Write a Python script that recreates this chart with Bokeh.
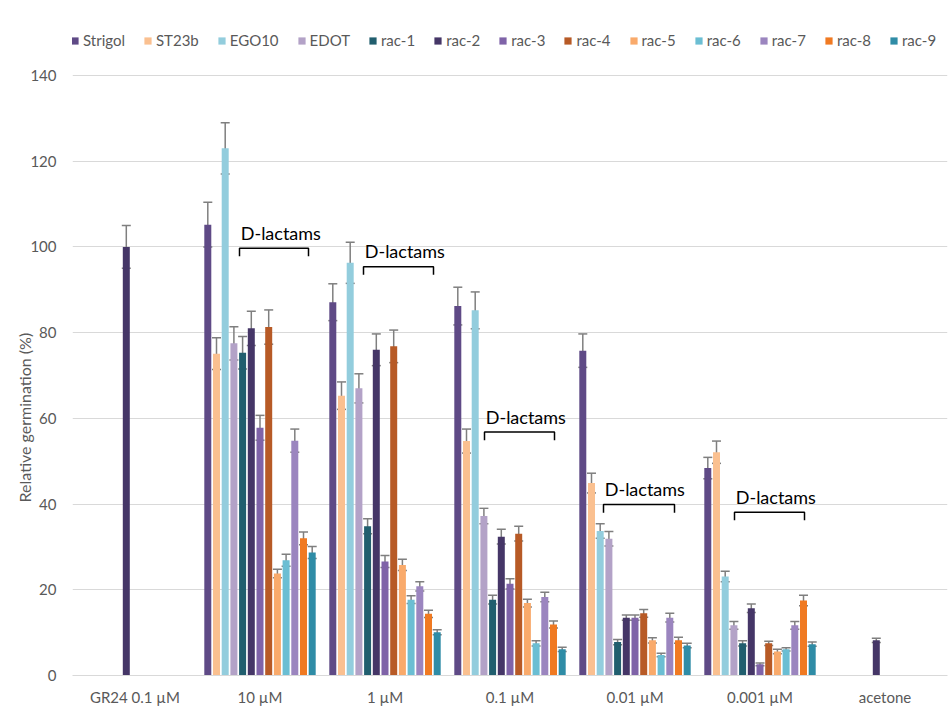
import math
from bokeh.plotting import figure
from bokeh.models import (Range1d, FixedTicker, ColumnDataSource, Whisker, TeeHead,
                          Legend, LegendItem)
from bokeh.core.properties import value
from bokeh.embed import file_html
from bokeh.resources import INLINE

categories = ["GR24 0.1 µM", "10 µM", "1 µM", "0.1 µM", "0.01 µM", "0.001 µM", "acetone"]
series_names = ["Strigol", "ST23b", "EGO10", "EDOT", "rac-1", "rac-2", "rac-3",
                "rac-4", "rac-5", "rac-6", "rac-7", "rac-8", "rac-9"]

strigol = [None, 105.2, 87.1, 86.2, 75.8, 48.4, None]
strigol_err = [None, 5.2, 4.3, 4.4, 3.9, 2.5, None]
st23b = [None, 75.1, 65.3, 54.7, 44.9, 52.1, None]
st23b_err = [None, 3.7, 3.2, 2.8, 2.3, 2.6, None]
ego10 = [None, 123.0, 96.3, 85.2, 33.7, 23.1, None]
ego10_err = [None, 6.0, 4.8, 4.3, 1.7, 1.2, None]
edot = [None, 77.5, 67.0, 37.2, 31.9, 11.7, None]
edot_err = [None, 3.9, 3.4, 1.8, 1.7, 0.9, None]
rac1 = [None, 75.3, 34.8, 17.7, 7.8, 7.5, None]
rac1_err = [None, 3.8, 1.75, 1.0, 0.6, 0.6, None]
rac2 = [100.0, 81.0, 76.0, 32.4, 13.5, 15.7, 8.2]
rac2_err = [5.0, 4.0, 3.7, 1.7, 0.6, 1.0, 0.5]
rac3 = [None, 57.8, 26.6, 21.4, 13.5, 2.6, None]
rac3_err = [None, 2.9, 1.4, 1.2, 0.6, 0.3, None]
rac4 = [None, 81.3, 76.8, 33.1, 14.5, 7.5, None]
rac4_err = [None, 4.0, 3.8, 1.7, 0.9, 0.5, None]
rac5 = [None, 23.8, 25.8, 16.9, 8.2, 5.6, None]
rac5_err = [None, 1.0, 1.3, 0.9, 0.6, 0.5, None]
rac6 = [None, 26.9, 17.7, 7.5, 4.8, 6.1, None]
rac6_err = [None, 1.4, 0.9, 0.6, 0.4, 0.4, None]
rac7 = [None, 54.8, 20.8, 18.3, 13.5, 11.7, None]
rac7_err = [None, 2.7, 1.1, 1.1, 1.0, 0.9, None]
rac8 = [None, 32.0, 14.4, 11.9, 8.2, 17.5, None]
rac8_err = [None, 1.5, 0.85, 0.8, 0.7, 1.2, None]
rac9 = [None, 28.7, 10.1, 6.1, 7.0, 7.3, None]
rac9_err = [None, 1.4, 0.6, 0.5, 0.5, 0.5, None]

y_ticks = [0, 20, 40, 60, 80, 100, 120, 140]

# annotation brackets: (category, left offset, right offset, bracket top value)
brackets = [("10 µM", -0.164, 0.388, 99.7),
            ("1 µM", -0.172, 0.388, 95.4),
            ("0.1 µM", -0.204, 0.356, 56.8),
            ("0.01 µM", -0.252, 0.316, 39.9),
            ("0.001 µM", -0.204, 0.356, 38.1)]

values = [strigol, st23b, ego10, edot, rac1, rac2, rac3, rac4, rac5, rac6, rac7, rac8, rac9]
errors = [strigol_err, st23b_err, ego10_err, edot_err, rac1_err, rac2_err, rac3_err,
          rac4_err, rac5_err, rac6_err, rac7_err, rac8_err, rac9_err]
colors = ["#5f4a86", "#fac090", "#93cddd", "#b3a2c7", "#215e6e", "#453667", "#7f63a8",
          "#b75a26", "#f9aa6b", "#6bbed3", "#9b85bf", "#f07a22", "#2f8ca6"]

FONT = "Lato"
GREY = "#595959"

# plot area: 140 sits 55 px below the frame top, leaving room for the legend inside
TOP_PX = 20
BOTTOM_PX = 43
PX_PER_UNIT = 600 / 140
y_max = 140 + 55 / PX_PER_UNIT

p = figure(width=950, height=718, output_backend="svg", toolbar_location=None,
           x_range=Range1d(0, len(categories)), y_range=Range1d(0, y_max),
           min_border_left=72, min_border_right=3, min_border_top=TOP_PX,
           min_border_bottom=BOTTOM_PX)
p.outline_line_color = None
p.background_fill_color = "white"

p.xaxis.ticker = FixedTicker(ticks=[i + 0.5 for i in range(len(categories))])
p.xaxis.major_label_overrides = {i + 0.5: c for i, c in enumerate(categories)}
p.xaxis.major_tick_line_color = None
p.xaxis.minor_tick_line_color = None
p.xaxis.major_tick_out = 0
p.xaxis.major_label_standoff = 12
p.xaxis.axis_line_color = "#d9d9d9"
p.xaxis.major_label_text_font = FONT
p.xaxis.major_label_text_font_size = "15px"
p.xaxis.major_label_text_color = GREY
p.xgrid.grid_line_color = None

p.yaxis.ticker = FixedTicker(ticks=y_ticks)
p.yaxis.axis_line_color = None
p.yaxis.major_tick_line_color = None
p.yaxis.minor_tick_line_color = None
p.yaxis.major_tick_out = 0
p.yaxis.major_label_standoff = 16
p.yaxis.major_label_text_font = FONT
p.yaxis.major_label_text_font_size = "15px"
p.yaxis.major_label_text_color = GREY
p.yaxis.axis_label = "Relative germination (%)" + "\u00a0" * 34
p.yaxis.axis_label_standoff = -7
p.yaxis.axis_label_text_font = FONT
p.yaxis.axis_label_text_font_size = "16px"
p.yaxis.axis_label_text_font_style = "normal"
p.yaxis.axis_label_text_color = GREY
p.ygrid.grid_line_color = "#d9d9d9"
p.ygrid.grid_line_width = 1

n = len(series_names)
step = 0.0696
bar_w = 0.056
legend_items = []
for i, name in enumerate(series_names):
    xs, tops, ups, los = [], [], [], []
    for j, v in enumerate(values[i]):
        if v is None:
            continue
        x = j + 0.5 + (i - (n - 1) / 2) * step
        xs.append(x)
        tops.append(v)
        e = errors[i][j]
        ups.append(v + e)
        los.append(v - e)
    src = ColumnDataSource(dict(x=xs, top=tops, upper=ups, lower=los))
    r = p.vbar(x="x", top="top", width=bar_w, source=src, fill_color=colors[i],
               line_color=None)
    legend_items.append(LegendItem(label=name, renderers=[r]))
    w = Whisker(source=src, base="x", upper="upper", lower="lower", dimension="height",
                line_color="#7f7f7f", line_width=1.5,
                upper_head=TeeHead(size=9, line_color="#7f7f7f", line_width=1.5),
                lower_head=TeeHead(size=9, line_color="#7f7f7f", line_width=1.5))
    p.add_layout(w)

# D-lactams brackets
for cat, lo, hi, top in brackets:
    c = categories.index(cat) + 0.5
    leg = top - 1.9
    p.line([c + lo, c + lo, c + hi, c + hi], [leg, top, top, leg],
           line_color="black", line_width=1.5)
    p.text(x=[c + lo + 0.01], y=[top + 3.6], text=["D-lactams"], text_align="left",
           text_baseline="middle", text_font=value(FONT), text_font_size="18px",
           text_color="black")

legend = Legend(items=legend_items, orientation="horizontal", location=(-2, 626),
                glyph_width=9, glyph_height=9, label_standoff=4, spacing=18,
                padding=0, margin=0, border_line_color=None, background_fill_alpha=0,
                label_text_font=FONT, label_text_font_size="15px",
                label_text_color=GREY, label_height=18)
p.add_layout(legend)

open("out.html", "w").write(file_html(p, INLINE))
